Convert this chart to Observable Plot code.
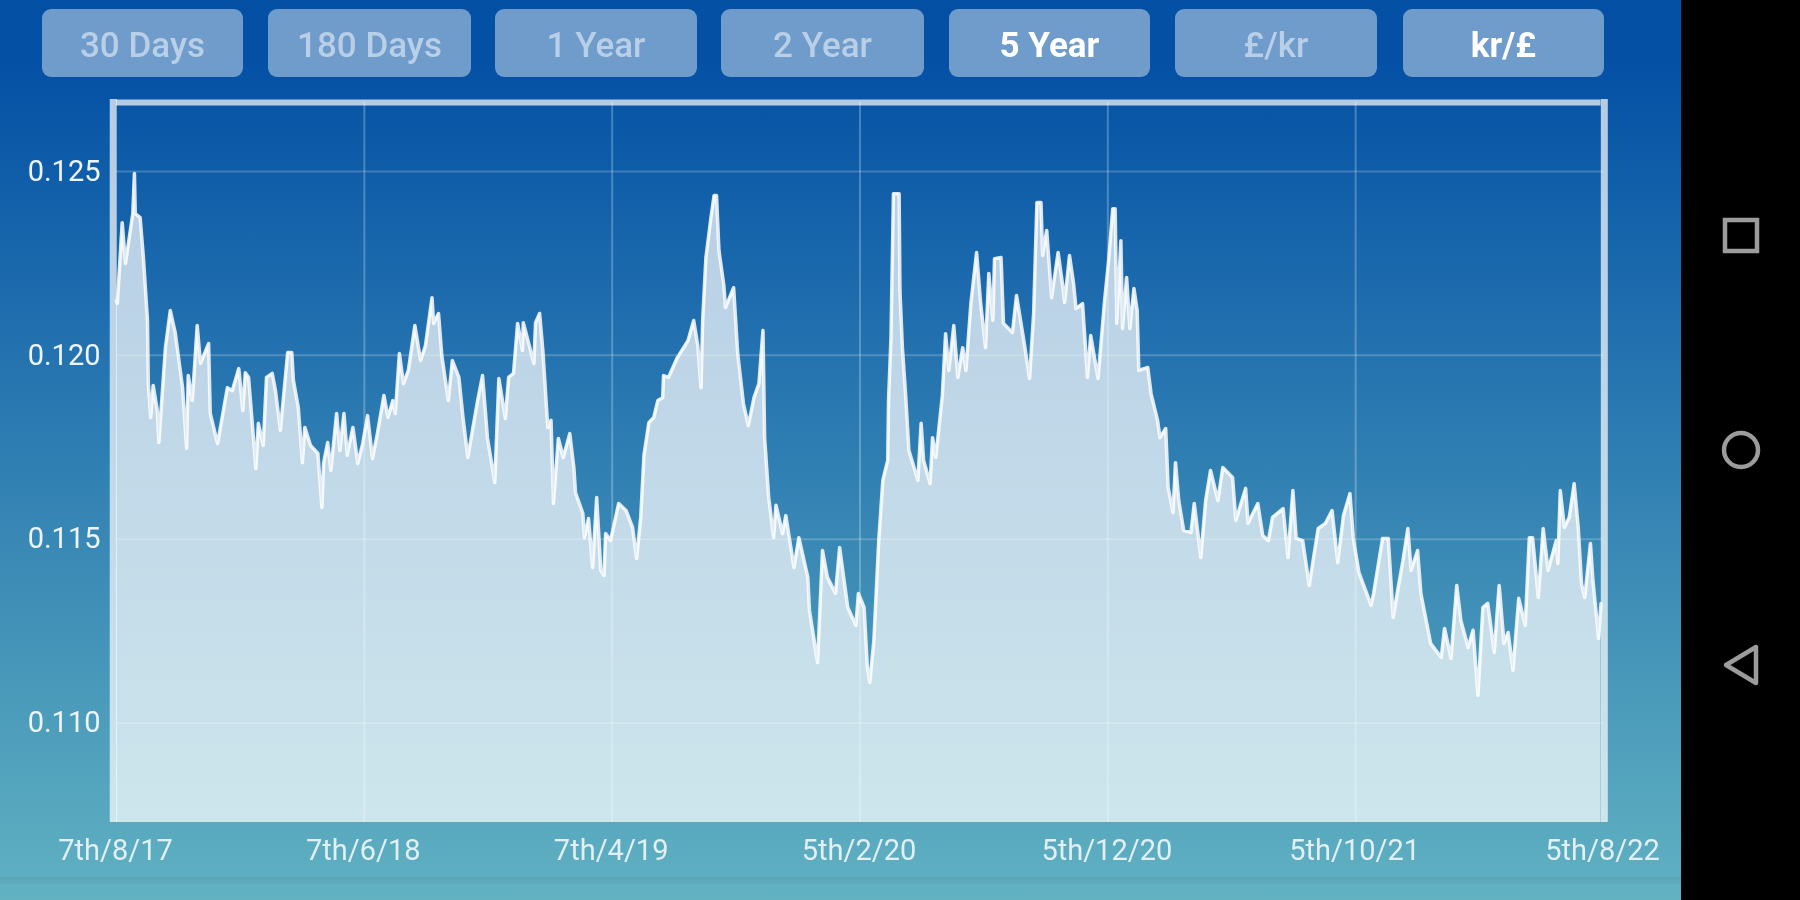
<!DOCTYPE html>
<html>
<head>
<meta charset="utf-8">
<script src="https://cdn.jsdelivr.net/npm/d3@7"></script>
<script src="https://cdn.jsdelivr.net/npm/@observablehq/plot@0.6"></script>
<style>
html,body{margin:0;padding:0;background:#000;width:1800px;height:900px;overflow:hidden;font-family:Roboto,sans-serif}
#app{position:absolute;left:0;top:0;width:1681px;height:900px;background:linear-gradient(180deg,#0350a5 0,#0350a5 60px,#5fb0c1 885px,#62b2c2 900px);filter:blur(0.7px)}
#app:after{content:"";position:absolute;left:0;right:0;top:877px;height:8px;background:linear-gradient(180deg,rgba(60,90,100,.12),rgba(60,90,100,0))}
#bar{position:absolute;left:1681px;top:0;width:119px;height:900px;background:#000}
.btn{position:absolute;top:9px;height:68px;border-radius:9px;background:#6f9cca;color:#b9cfe7;font-size:35px;font-weight:500;line-height:74px;text-align:center}
.btn.on{color:#fff;font-weight:700}
#chart{position:absolute;left:0;top:90px}
svg.nav{position:absolute;left:0;top:0;filter:blur(0.7px)}
</style>
</head>
<body>
<div id="app"><div id="chart"></div></div>
<div id="bar">
<svg class="nav" width="119" height="900" fill="none" stroke="#9c9c9c" stroke-width="4.5">
<rect x="44" y="220" width="32" height="31"/>
<circle cx="60" cy="450" r="17"/>
<path d="M75 647 V683 L45 665 Z" stroke-linejoin="round"/>
</svg>
</div>
<script>
const buttonLabels = ["30 Days","180 Days","1 Year","2 Year","5 Year","£/kr","kr/£"];
const activeButtons = ["5 Year","kr/£"];
const buttonEdges = [[42,243],[268,471],[495,697],[721,924],[949,1150],[1175,1377],[1403,1604]];

const yTicks = [0.110,0.115,0.120,0.125];
const tickDates = ["2017-08-07","2018-06-07","2019-04-07","2020-02-05","2020-12-05","2021-10-05","2022-08-05"];
const tickLabels = ["7th/8/17","7th/6/18","7th/4/19","5th/2/20","5th/12/20","5th/10/21","5th/8/22"];

// days since 7 Aug 2017
const dayOffsets = [0,1,7,11,20,22,23,29,33,38,39,42,45,50,52,60,66,72,81,86,88,93,99,103,113,115,124,136,142,150,155,158,162,171,174,180,184,191,195,201,210,215,217,223,228,231,238,247,252,254,259,263,270,274,279,283,290,296,302,308,314,320,328,333,339,342,347,352,358,366,373,379,387,389,395,399,407,412,420,425,431,437,443,449,455,464,469,477,481,487,492,498,499,512,514,519,523,529,533,536,542,548,556,561,563,572,574,579,584,589,594,598,600,606,616,625,633,638,643,647,653,659,664,670,671,677,688,701,708,713,717,719,723,729,733,736,739,745,747,757,762,769,775,782,788,793,795,800,806,809,817,821,831,837,848,850,860,866,872,882,887,897,907,910,917,921,924,929,935,940,946,947,950,953,960,961,964,968,972,983,987,990,998,1001,1005,1013,1017,1021,1027,1032,1038,1042,1048,1055,1060,1066,1070,1075,1077,1085,1088,1099,1104,1113,1120,1125,1129,1134,1136,1141,1147,1155,1161,1163,1169,1174,1177,1185,1191,1195,1204,1212,1217,1222,1225,1227,1232,1234,1239,1243,1248,1252,1254,1265,1269,1277,1280,1287,1290,1296,1299,1303,1309,1318,1322,1330,1336,1342,1351,1357,1369,1373,1385,1388,1400,1406,1413,1418,1431,1437,1443,1447,1455,1463,1474,1483,1491,1498,1505,1513,1517,1524,1539,1542,1553,1560,1566,1573,1578,1584,1588,1596,1600,1612,1625,1629,1637,1644,1649,1658,1664,1670,1676,1682,1690,1696,1702,1707,1713,1720,1728,1733,1737,1744,1750,1756,1766,1768,1771,1776,1782,1788,1793,1797,1801,1808,1811,1818,1821];

const rates = [0.12149,0.12141,0.12361,0.12250,0.12386,0.12495,0.12386,0.12375,0.12266,0.12095,0.11923,0.11831,0.11918,0.11850,0.11763,0.12021,0.12122,0.12062,0.11912,0.11747,0.11945,0.11877,0.12081,0.11978,0.12032,0.11842,0.11760,0.11912,0.11904,0.11964,0.11850,0.11953,0.11940,0.11692,0.11815,0.11755,0.11940,0.11951,0.11904,0.11796,0.12008,0.12008,0.11932,0.11858,0.11708,0.11804,0.11755,0.11733,0.11586,0.11706,0.11763,0.11687,0.11842,0.11741,0.11842,0.11728,0.11804,0.11706,0.11760,0.11836,0.11719,0.11787,0.11891,0.11831,0.11877,0.11842,0.12005,0.11923,0.11959,0.12081,0.11986,0.12027,0.12157,0.12087,0.12114,0.12000,0.11877,0.11986,0.11940,0.11831,0.11722,0.11801,0.11877,0.11945,0.11776,0.11654,0.11937,0.11828,0.11940,0.11951,0.12087,0.12013,0.12089,0.11978,0.12089,0.12114,0.12013,0.11804,0.11823,0.11597,0.11774,0.11722,0.11787,0.11695,0.11627,0.11570,0.11504,0.11556,0.11423,0.11613,0.11415,0.11401,0.11515,0.11496,0.11597,0.11578,0.11532,0.11447,0.11559,0.11728,0.11817,0.11831,0.11877,0.11885,0.11945,0.11940,0.11994,0.12040,0.12095,0.12027,0.11912,0.12095,0.12266,0.12372,0.12435,0.12435,0.12285,0.12190,0.12130,0.12184,0.12005,0.11869,0.11809,0.11885,0.11923,0.12068,0.11776,0.11613,0.11504,0.11592,0.11515,0.11564,0.11423,0.11504,0.11396,0.11306,0.11164,0.11469,0.11396,0.11352,0.11477,0.11314,0.11265,0.11352,0.11314,0.11151,0.11110,0.11224,0.11496,0.11660,0.11714,0.11877,0.12048,0.12440,0.12440,0.12176,0.12021,0.11891,0.11741,0.11660,0.11815,0.11714,0.11651,0.11776,0.11722,0.11891,0.12059,0.11959,0.12081,0.11940,0.12021,0.11959,0.12141,0.12280,0.12141,0.12021,0.12223,0.12095,0.12263,0.12266,0.12087,0.12062,0.12163,0.12040,0.11937,0.12114,0.12416,0.12416,0.12272,0.12340,0.12157,0.12280,0.12184,0.12144,0.12272,0.12195,0.12127,0.12141,0.11940,0.12054,0.11937,0.12149,0.12258,0.12399,0.12399,0.12087,0.12312,0.12073,0.12212,0.12073,0.12182,0.12122,0.11959,0.11967,0.11896,0.11823,0.11776,0.11801,0.11640,0.11572,0.11708,0.11605,0.11524,0.11518,0.11597,0.11450,0.11605,0.11687,0.11605,0.11695,0.11668,0.11551,0.11638,0.11543,0.11597,0.11510,0.11496,0.11559,0.11583,0.11450,0.11632,0.11502,0.11496,0.11374,0.11529,0.11543,0.11578,0.11436,0.11564,0.11624,0.11504,0.11409,0.11320,0.11352,0.11502,0.11502,0.11287,0.11379,0.11442,0.11529,0.11415,0.11469,0.11352,0.11216,0.11178,0.11257,0.11175,0.11374,0.11279,0.11205,0.11252,0.11075,0.11314,0.11325,0.11192,0.11374,0.11216,0.11246,0.11143,0.11339,0.11265,0.11504,0.11504,0.11341,0.11529,0.11415,0.11496,0.11434,0.11632,0.11532,0.11559,0.11651,0.11532,0.11379,0.11341,0.11488,0.11388,0.11230,0.11325];

const yDomain = [0.10729,0.12688];
const frameTop = 0.12696;
const startDate = new Date("2017-08-07");
const series = dayOffsets.map((d,i)=>({date:d3.utcDay.offset(startDate,d),rate:rates[i]}));
const ticksAsDates = tickDates.map(s=>new Date(s));
const labelFor = t => tickLabels[ticksAsDates.findIndex(d=>+d===+t)];
const frameDates = [d3.utcDay.offset(startDate,-4),d3.utcDay.offset(startDate,1825)];

const app = document.getElementById("app");
buttonLabels.forEach((label,i)=>{
  const b=document.createElement("div");
  b.className="btn"+(activeButtons.includes(label)?" on":"");
  b.textContent=label;
  b.style.left=buttonEdges[i][0]+"px";
  b.style.width=(buttonEdges[i][1]-buttonEdges[i][0])+"px";
  app.appendChild(b);
});

const chart = Plot.plot({
  width:1681,height:810,
  marginLeft:116,marginRight:78,marginTop:12,marginBottom:78,
  style:{background:"transparent",fontFamily:"Roboto",fontSize:"29px",overflow:"visible"},
  x:{type:"utc",domain:[startDate,new Date("2022-08-05")]},
  y:{domain:yDomain},
  marks:[
    Plot.ruleX(frameDates,{stroke:"#fff",strokeOpacity:0.7,strokeWidth:7,y1:yDomain[0],y2:frameTop}),
    Plot.ruleY([yDomain[1]],{stroke:"#fff",strokeOpacity:0.7,strokeWidth:6,x1:startDate,x2:series[series.length-1].date}),
    Plot.areaY(series,{x:"date",y1:()=>yDomain[0],y2:"rate",fill:"#fff",fillOpacity:0.7}),
    Plot.ruleY(yTicks,{stroke:"#fff",strokeOpacity:0.2,strokeWidth:2}),
    Plot.ruleX(ticksAsDates.slice(1,-1),{stroke:"#fff",strokeOpacity:0.25,strokeWidth:2}),
    Plot.lineY(series,{x:"date",y:"rate",stroke:"#fff",strokeOpacity:0.85,strokeWidth:3.5}),
    Plot.axisY({ticks:yTicks,tickFormat:d3.format(".3f"),tickSize:0,tickPadding:16,label:null,fill:"#eef5fa"}),
    Plot.axisX({ticks:ticksAsDates,tickFormat:labelFor,tickSize:0,tickPadding:17,dx:-1,label:null,fill:"#e2eff4"})
  ]
});
document.getElementById("chart").appendChild(chart);
</script>
</body>
</html>
